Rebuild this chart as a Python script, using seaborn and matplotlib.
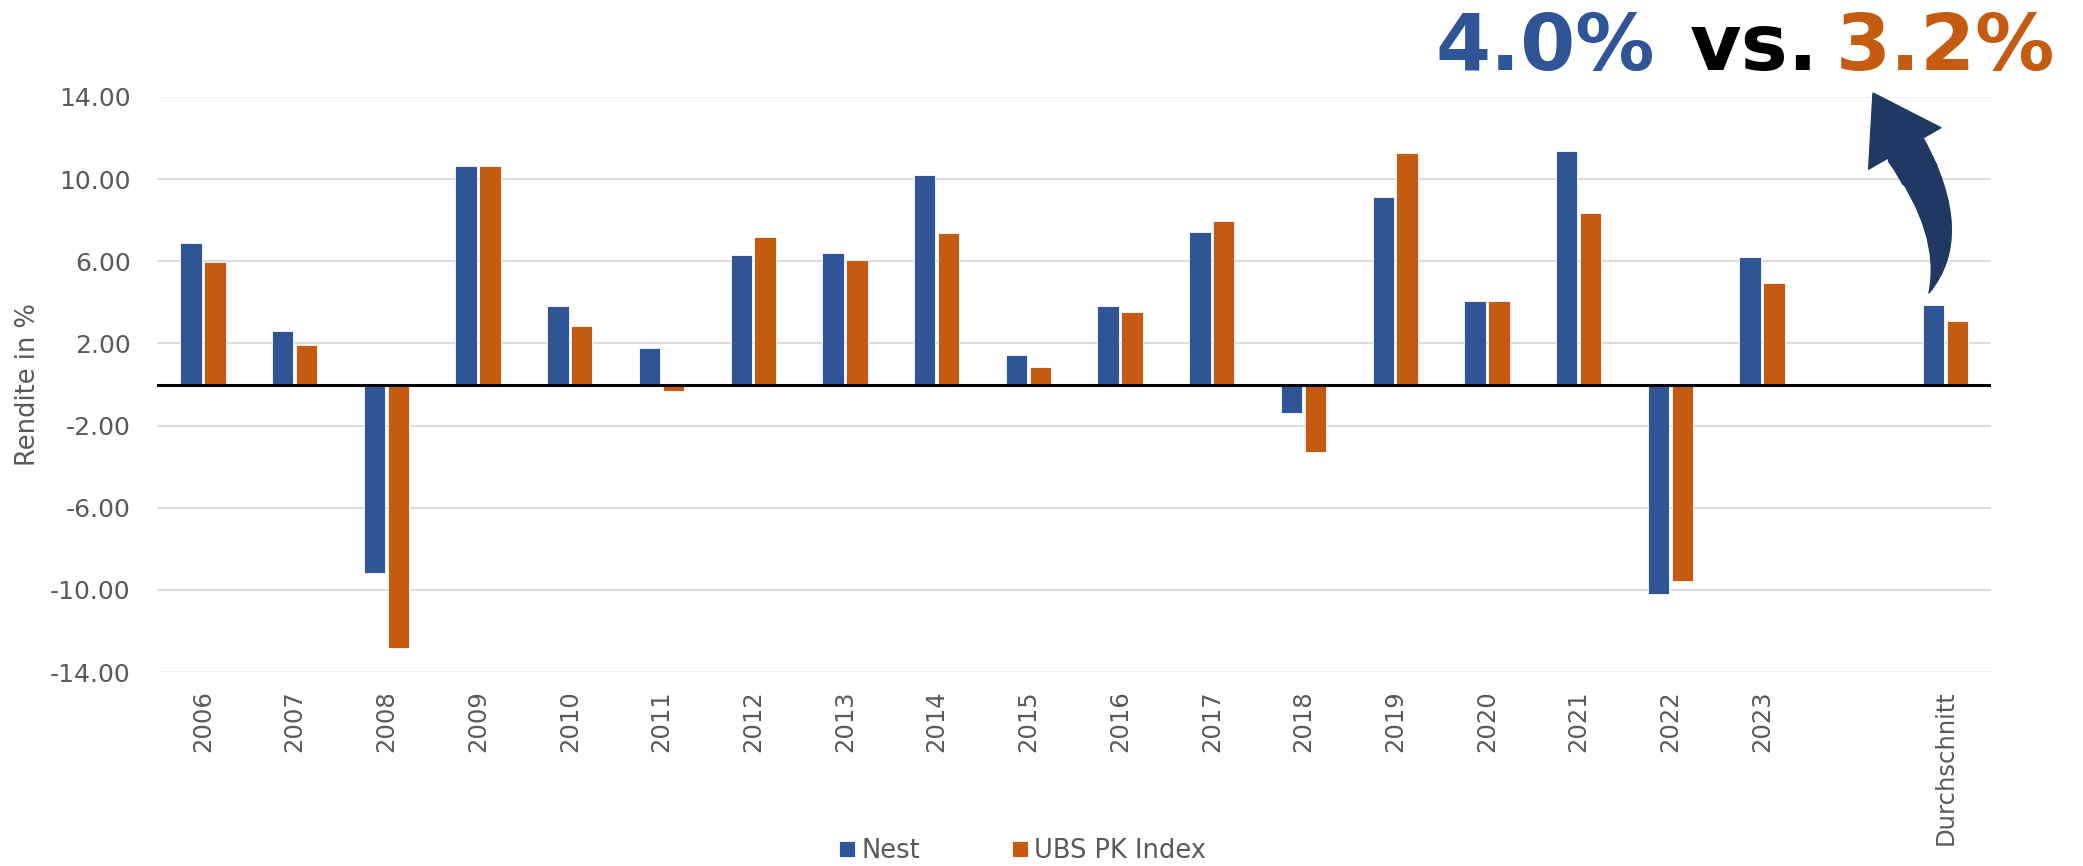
import pandas as pd
import matplotlib.pyplot as plt
import seaborn as sns
from matplotlib.patches import FancyArrowPatch

# DATA
years = ['2006', '2007', '2008', '2009', '2010', '2011', '2012', '2013', '2014',
         '2015', '2016', '2017', '2018', '2019', '2020', '2021', '2022', '2023',
         'Durchschnitt']
nest = [6.91, 2.61, -9.19, 10.62, 3.80, 1.80, 6.31, 6.40, 10.20,
        1.43, 3.80, 7.43, -1.41, 9.12, 4.05, 11.37, -10.20, 6.21, 3.88]
ubs = [5.95, 1.93, -12.82, 10.62, 2.84, -0.33, 7.16, 6.06, 7.37,
       0.87, 3.55, 7.97, -3.28, 11.26, 4.07, 8.37, -9.59, 4.92, 3.09]
series = ['Nest', 'UBS PK Index']
yticks = [-14, -10, -6, -2, 2, 6, 10, 14]
headline = ['4.0%', 'vs.', '3.2%']

BLUE = '#2F5597'
ORANGE = '#C55A11'
GREY = '#595959'
NAVY = '#1F3864'

df = pd.DataFrame({'year': years, 'Nest': nest, 'UBS PK Index': ubs})
df = df.melt(id_vars='year', var_name='serie', value_name='rendite')

# empty slot between 2023 and the average
order = years[:-1] + [' '] + years[-1:]

sns.set_style('white')
plt.rcParams['font.family'] = ['DejaVu Sans']

W, H = 2083, 866
fig = plt.figure(figsize=(W / 100, H / 100), dpi=100)
ax = fig.add_axes([0.0754, 0.224, 0.8806, 0.664])

sns.barplot(data=df, x='year', y='rendite', hue='serie', order=order,
            hue_order=series, palette={'Nest': BLUE, 'UBS PK Index': ORANGE},
            width=0.52, gap=0.1, edgecolor='white', linewidth=0.6,
            saturation=1, ax=ax)

ax.set_ylim(-14, 14)
ax.set_xlim(-0.5, len(order) - 0.5)
ax.set_yticks(yticks)
ax.set_yticklabels([f'{v:.2f}' for v in yticks])
ax.yaxis.grid(True, color='#D9D9D9', linewidth=1.3)
gl = ax.get_ygridlines()
gl[0].set_color('#F0F0F0')
gl[-1].set_color('#F0F0F0')
ax.set_axisbelow(True)
ax.axhline(0, color='black', linewidth=2.2, zorder=5)
for s in ax.spines.values():
    s.set_visible(False)

ax.tick_params(axis='y', labelsize=18, labelcolor=GREY, length=0, pad=19)
ax.tick_params(axis='x', labelsize=17.5, labelcolor=GREY, length=0, pad=13,
               labelrotation=90)
ax.set_xlabel('')
ax.set_ylabel('Rendite in %', fontsize=18.5, color=GREY)
ax.yaxis.set_label_coords(-0.063, 0.5)

# legend below the chart
handles, labels = ax.get_legend_handles_labels()
ax.legend_.remove()
fig.legend(handles, labels, loc='center', bbox_to_anchor=(0.491, 0.017),
           ncol=2, frameon=False, fontsize=18.5, labelcolor=GREY,
           handlelength=0.6, handleheight=0.6, handletextpad=0.25,
           columnspacing=3.6)

# headline
y0 = 1 - 70 / H
fig.text(1435 / W, y0, headline[0], color=BLUE, fontsize=57,
         fontweight='bold', va='baseline')
fig.text(1690 / W, y0, headline[1], color='black', fontsize=57,
         fontweight='bold', va='baseline')
fig.text(1836 / W, y0, headline[2], color=ORANGE, fontsize=57,
         fontweight='bold', va='baseline')


def fpos(x, y):
    # pixel position (from top left) -> figure fraction
    return (x / W, 1 - y / H)


# curved arrow from the average bar up to the headline:
# tapering body (wedge drawn from the head down to the bar) plus the head
body = FancyArrowPatch(fpos(1906, 150), fpos(1929, 293),
                       transform=fig.transFigure,
                       arrowstyle='wedge,tail_width=1.5,shrink_factor=0.64',
                       connectionstyle='angle3,angleA=-58,angleB=63',
                       color=NAVY, mutation_scale=20, shrinkA=0, shrinkB=0)
head = FancyArrowPatch(fpos(1920, 175), fpos(1873, 93),
                       transform=fig.transFigure,
                       arrowstyle='simple,head_length=2.3,head_width=3.0,tail_width=1.4',
                       color=NAVY, mutation_scale=20, shrinkA=0, shrinkB=0)
fig.add_artist(body)
fig.add_artist(head)

plt.savefig('out.png', dpi=100)
plt.close()
